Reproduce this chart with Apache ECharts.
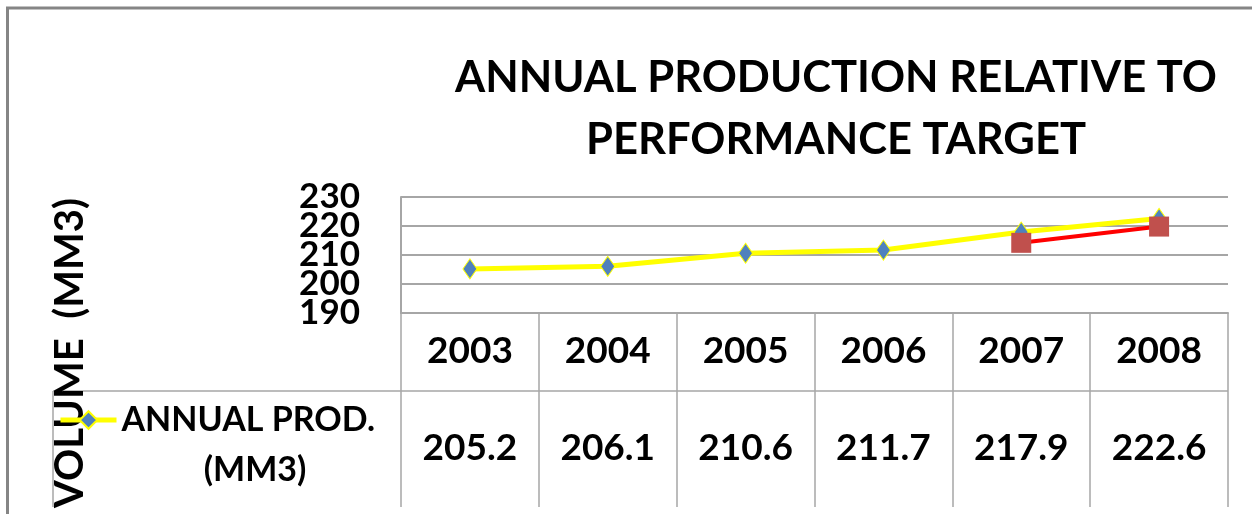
<!DOCTYPE html>
<html>
<head>
<meta charset="utf-8">
<script src="https://cdn.jsdelivr.net/npm/echarts@6/dist/echarts.min.js"></script>
<style>
  html, body { margin: 0; padding: 0; background: #fff; }
  #chart { width: 1252px; height: 514px; }
</style>
</head>
<body>
<div id="chart"></div>
<script>
// data
var years = ['2003', '2004', '2005', '2006', '2007', '2008'];
var prodValues = [205.2, 206.1, 210.6, 211.7, 217.9, 222.6];
var targetValues = [null, null, null, null, 214.2, 219.8];
var yTicks = ['190', '200', '210', '220', '230'];
var prodName = 'ANNUAL PROD. (MM3)';
var targetName = 'TARGET';

var font = 'Lato, Calibri, sans-serif';
var gridGray = '#A6A6A6';

var chart = echarts.init(document.getElementById('chart'));
chart.setOption({
    animation: false,
    backgroundColor: '#fff',
    title: {
        text: 'ANNUAL PRODUCTION RELATIVE TO\nPERFORMANCE TARGET',
        left: 831,
        top: 42,
        textAlign: 'center',
        textStyle: {fontFamily: font, fontSize: 43.5, fontWeight: 'bold', color: '#000', lineHeight: 62}
    },
    legend: {
        data: [prodName],
        left: 58,
        top: 400,
        padding: 0,
        itemWidth: 56,
        itemHeight: 22,
        formatter: function () { return 'ANNUAL PROD.'; },
        lineStyle: {width: 5, color: '#FFFF00'},
        textStyle: {fontFamily: font, fontSize: 34, fontWeight: 'bold', color: '#000', lineHeight: 40}
    },
    grid: {left: 401, right: 24, top: 197, bottom: 201},
    xAxis: [
        {
            type: 'category',
            data: years,
            position: 'bottom',
            boundaryGap: true,
            axisLine: {show: true, lineStyle: {color: gridGray, width: 2}},
            axisTick: {show: true, length: 194, lineStyle: {color: gridGray, width: 1.5}},
            axisLabel: {
                margin: 38, verticalAlign: 'middle',
                fontFamily: font, fontSize: 37, fontWeight: 'bold', color: '#000'
            }
        },
        {
            type: 'category',
            data: years,
            position: 'bottom',
            boundaryGap: true,
            axisLine: {show: false},
            axisTick: {show: false},
            axisLabel: {
                margin: 135, verticalAlign: 'middle',
                fontFamily: font, fontSize: 37, fontWeight: 'bold', color: '#000',
                formatter: function (v, i) { return prodValues[i].toFixed(1); }
            }
        }
    ],
    yAxis: [
        {
            type: 'value',
            min: 190,
            max: 230,
            interval: 10,
            axisLine: {show: true, lineStyle: {color: gridGray, width: 2}},
            axisTick: {show: false},
            splitLine: {lineStyle: {color: gridGray, width: 2}},
            axisLabel: {show: false}
        },
        {
            // tick labels only, so that all five stay visible although they touch
            type: 'category',
            data: yTicks,
            position: 'left',
            boundaryGap: false,
            axisLine: {show: false},
            axisTick: {show: false},
            splitLine: {show: false},
            axisLabel: {
                interval: 0, margin: 41,
                fontFamily: font, fontSize: 35, fontWeight: 'bold', color: '#000'
            }
        }
    ],
    graphic: [
        // outer frame (top and left edges)
        {type: 'polyline', shape: {points: [[7.5, 514], [7.5, 8], [1252, 8]]},
            style: {stroke: '#858585', lineWidth: 3, fill: null}},
        // table row separator and legend cell border
        {type: 'line', shape: {x1: 53, y1: 391, x2: 1228, y2: 391},
            style: {stroke: gridGray, lineWidth: 1.5}},
        {type: 'line', shape: {x1: 53, y1: 391, x2: 53, y2: 507},
            style: {stroke: gridGray, lineWidth: 1.5}},
        {type: 'text', x: 255, y: 470, style: {
            text: '(MM3)', textAlign: 'center', textVerticalAlign: 'middle',
            fontFamily: font, fontSize: 34, fontWeight: 'bold', fill: '#000'}},
        // y axis title
        {type: 'text', x: 70, y: 353, rotation: Math.PI / 2, style: {
            text: 'VOLUME  (MM3)', textAlign: 'center', textVerticalAlign: 'middle',
            fontFamily: font, fontSize: 40, fontWeight: 'bold', fill: '#000'}}
    ],
    series: [
        {
            name: prodName,
            type: 'line',
            yAxisIndex: 0,
            data: prodValues,
            symbol: 'diamond',
            symbolSize: [14, 20],
            itemStyle: {color: '#4F81BD', borderColor: '#FFFF00', borderWidth: 1},
            lineStyle: {color: '#FFFF00', width: 5}
        },
        {
            name: targetName,
            type: 'line',
            yAxisIndex: 0,
            data: targetValues,
            symbol: 'rect',
            symbolSize: 20,
            itemStyle: {color: '#C0504D'},
            lineStyle: {color: '#FF0000', width: 4}
        }
    ]
});
</script>
</body>
</html>
